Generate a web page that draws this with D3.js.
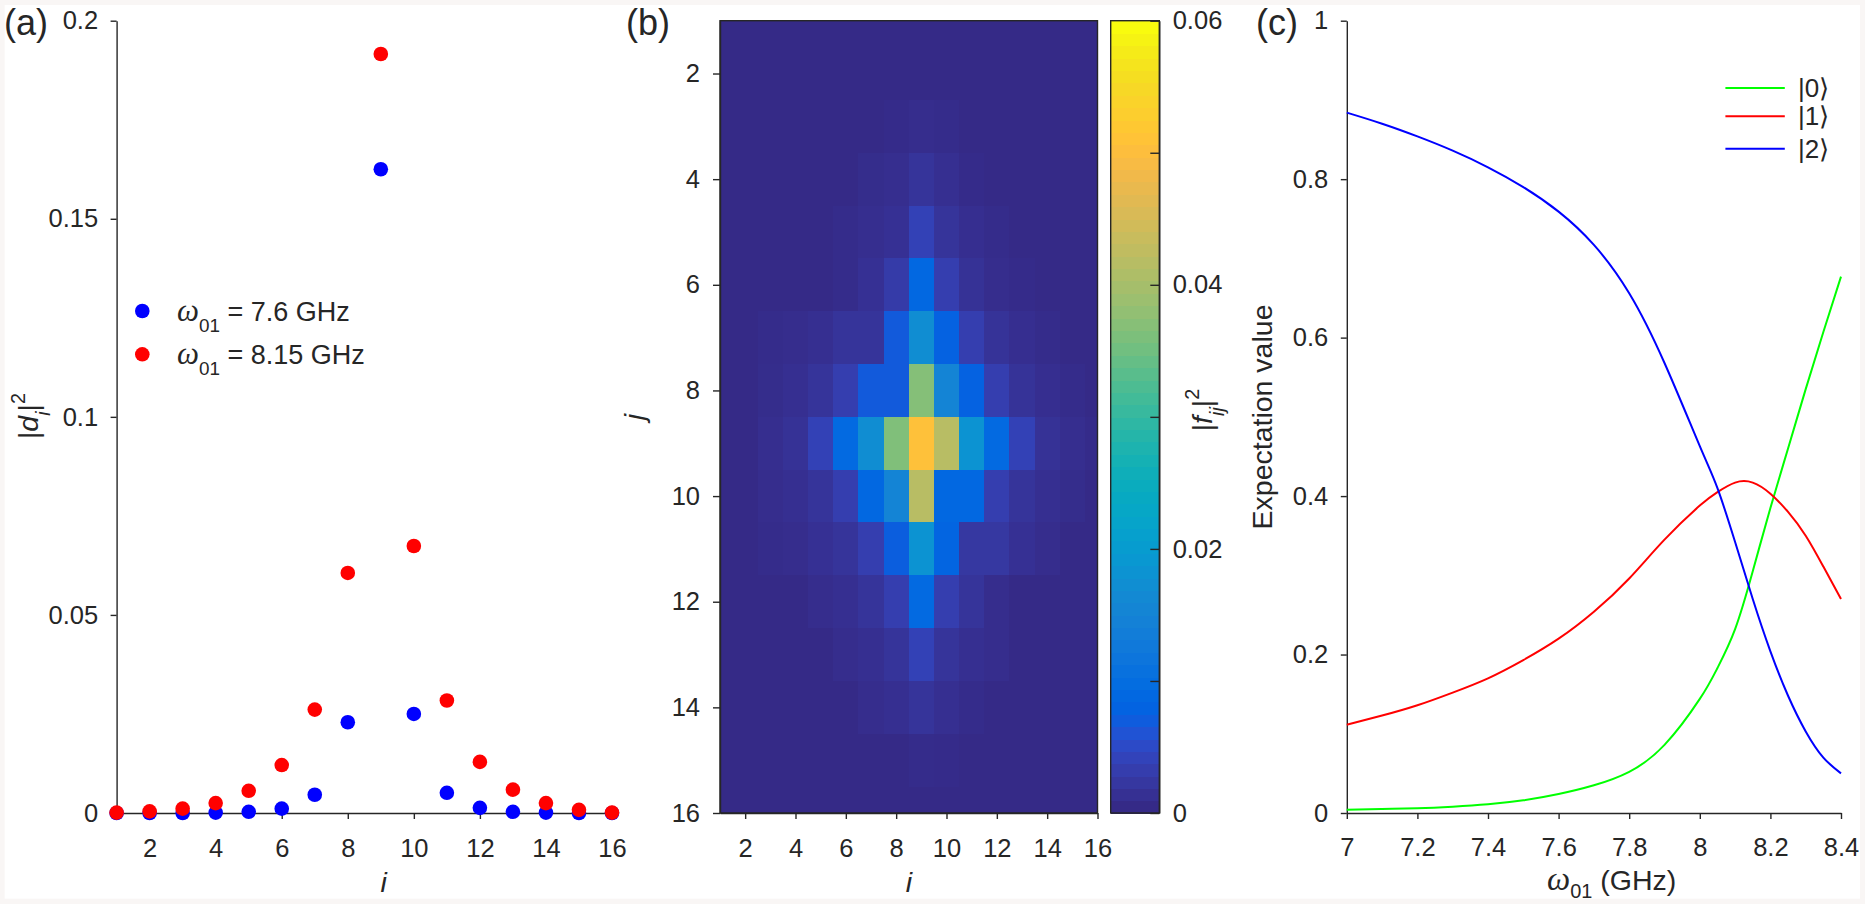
<!DOCTYPE html>
<html><head><meta charset="utf-8">
<script src="https://cdn.jsdelivr.net/npm/d3@7"></script>
<style>
html,body{margin:0;padding:0;background:#fff;}
svg{display:block;}
text{font-family:"Liberation Sans",Arial,Helvetica,sans-serif;fill:#262626;}
</style></head><body>
<svg id="fig" width="1865" height="904"></svg>
<script>
// ---------------- DATA ----------------
// Panel (a): |d_i|^2 for i = 1..16
const levelsI = [1,2,3,4,5,6,7,8,9,10,11,12,13,14,15,16];
const dBlue = [0.0000,0.0000,0.0000,0.0001,0.0003,0.0011,0.0046,0.0229,0.1625,0.0250,0.0051,0.0013,0.0003,0.0001,0.0000,0.0000]; // w01 = 7.6 GHz
const dRed  = [0.0001,0.0004,0.0011,0.0025,0.0056,0.0121,0.0261,0.0606,0.1916,0.0674,0.0284,0.0129,0.0059,0.0025,0.0008,0.0001]; // w01 = 8.15 GHz
const legendA = ["7.6 GHz","8.15 GHz"];
const ticksAx = [2,4,6,8,10,12,14,16];
const ticksAy = [0,0.05,0.1,0.15,0.2];
const labelsAy = ["0","0.05","0.1","0.15","0.2"];

// Panel (b): |f_ij|^2, rows j = 1..16, columns i = 1..16
const fRows = [
 [0,0,0,0,0,0,0,0,0,0,0,0,0,0,0,0],
 [0,0,0,0,0,0,0,0,0,0,0,0,0,0,0,0],
 [0,0,0,0,0,0,0,0.0002,0.0005,0.0003,0,0,0,0,0,0],
 [0,0,0,0,0,0,0.0004,0.0006,0.0015,0.0008,0.0002,0,0,0,0,0],
 [0,0,0,0,0,0.0003,0.0006,0.0010,0.0035,0.0015,0.0007,0.0003,0,0,0,0],
 [0,0,0,0,0,0.0003,0.0010,0.0025,0.0085,0.0030,0.0012,0.0005,0.0002,0,0,0],
 [0,0,0.0003,0.0005,0.0008,0.0015,0.0015,0.0065,0.0170,0.0075,0.0030,0.0013,0.0007,0.0003,0,0],
 [0,0,0.0004,0.0008,0.0015,0.0030,0.0065,0.0065,0.0370,0.0150,0.0075,0.0030,0.0013,0.0007,0.0003,0],
 [0,0,0.0006,0.0012,0.0035,0.0090,0.0170,0.0365,0.0510,0.0420,0.0180,0.0090,0.0035,0.0012,0.0006,0.0002],
 [0,0,0.0005,0.0008,0.0015,0.0030,0.0085,0.0150,0.0420,0.0085,0.0085,0.0030,0.0015,0.0008,0.0004,0],
 [0,0,0.0003,0.0005,0.0010,0.0015,0.0030,0.0070,0.0180,0.0080,0.0020,0.0020,0.0010,0.0005,0,0],
 [0,0,0,0,0.0005,0.0008,0.0015,0.0030,0.0090,0.0030,0.0015,0.0005,0,0,0,0],
 [0,0,0,0,0,0.0005,0.0008,0.0015,0.0035,0.0015,0.0008,0.0005,0,0,0,0],
 [0,0,0,0,0,0,0.0005,0.0008,0.0015,0.0008,0.0003,0,0,0,0,0],
 [0,0,0,0,0,0,0,0,0.0003,0.0002,0,0,0,0,0,0],
 [0,0,0,0,0,0,0,0,0,0,0,0,0,0,0,0]
];
const ticksB = [2,4,6,8,10,12,14,16];
const cbTicks = [0,0.01,0.02,0.03,0.04,0.05,0.06];
const cbLabels = ["0","","0.02","","0.04","","0.06"];

// Panel (c): expectation values vs w01 (GHz)
const omega = [7.0,7.1,7.2,7.3,7.4,7.5,7.6,7.7,7.8,7.9,8.0,8.05,8.1,8.15,8.2,8.25,8.3,8.35,8.4];
const p0 = [0.004,0.005,0.006,0.008,0.011,0.016,0.024,0.035,0.052,0.086,0.144,0.183,0.232,0.305,0.385,0.460,0.535,0.607,0.677];
const p1 = [0.1115,0.123,0.136,0.152,0.170,0.193,0.220,0.254,0.296,0.345,0.388,0.405,0.417,0.417,0.403,0.380,0.350,0.311,0.270];
const p2 = [0.884,0.870,0.854,0.836,0.815,0.790,0.759,0.717,0.656,0.568,0.463,0.410,0.342,0.270,0.204,0.148,0.103,0.070,0.050];
const stateNames = ["|0\u27E9","|1\u27E9","|2\u27E9"];
const ticksCx = [7,7.2,7.4,7.6,7.8,8,8.2,8.4];
const ticksCy = [0,0.2,0.4,0.6,0.8,1];

// parula colormap (style)
const parula = [[0.2081,0.1663,0.5292],[0.2116,0.1898,0.5777],[0.2123,0.2138,0.6270],[0.2081,0.2386,0.6771],[0.1959,0.2645,0.7279],[0.1707,0.2919,0.7792],[0.1253,0.3242,0.8303],[0.0591,0.3598,0.8683],[0.0117,0.3875,0.8820],[0.0060,0.4086,0.8828],[0.0165,0.4266,0.8786],[0.0329,0.4430,0.8720],[0.0498,0.4586,0.8641],[0.0629,0.4737,0.8554],[0.0723,0.4887,0.8467],[0.0779,0.5040,0.8384],[0.0793,0.5200,0.8312],[0.0749,0.5375,0.8263],[0.0641,0.5570,0.8240],[0.0488,0.5772,0.8228],[0.0343,0.5966,0.8199],[0.0265,0.6137,0.8135],[0.0239,0.6287,0.8038],[0.0231,0.6418,0.7913],[0.0228,0.6535,0.7768],[0.0267,0.6642,0.7607],[0.0384,0.6743,0.7436],[0.0590,0.6838,0.7254],[0.0843,0.6928,0.7062],[0.1133,0.7015,0.6859],[0.1453,0.7098,0.6646],[0.1801,0.7177,0.6424],[0.2178,0.7250,0.6193],[0.2586,0.7317,0.5954],[0.3022,0.7376,0.5712],[0.3482,0.7424,0.5473],[0.3953,0.7459,0.5244],[0.4420,0.7481,0.5033],[0.4871,0.7491,0.4840],[0.5300,0.7491,0.4661],[0.5709,0.7485,0.4494],[0.6099,0.7473,0.4337],[0.6473,0.7456,0.4188],[0.6834,0.7435,0.4044],[0.7184,0.7411,0.3905],[0.7525,0.7384,0.3768],[0.7858,0.7356,0.3633],[0.8185,0.7327,0.3498],[0.8507,0.7299,0.3360],[0.8824,0.7274,0.3217],[0.9139,0.7258,0.3063],[0.9450,0.7261,0.2886],[0.9739,0.7314,0.2666],[0.9938,0.7455,0.2403],[0.9990,0.7653,0.2164],[0.9955,0.7861,0.1967],[0.9880,0.8066,0.1794],[0.9789,0.8271,0.1633],[0.9697,0.8481,0.1475],[0.9626,0.8705,0.1309],[0.9589,0.8949,0.1132],[0.9598,0.9218,0.0948],[0.9661,0.9514,0.0755],[0.9763,0.9831,0.0538]]
  .map(c => d3.rgb(c[0]*255,c[1]*255,c[2]*255).formatHex());

// ---------------- DRAW ----------------
const INK = "#262626";
const FONT = '"Liberation Sans",Arial,Helvetica,sans-serif';
const SERIF = '"Liberation Serif","Times New Roman",serif';
const TICK_FS = 25.5, LABEL_FS = 28.5;

const svg = d3.select("#fig");
svg.append("rect").attr("width",1865).attr("height",904).attr("fill","#f9f6f5");
svg.append("rect").attr("x",4.7).attr("y",5).attr("width",1855.3).attr("height",893.7).attr("fill","#ffffff");

function styleAxis(g){
  g.attr("font-size",null).attr("font-family",null);
  g.selectAll("path.domain").attr("stroke",INK).attr("stroke-width",1.4);
  g.selectAll(".tick line").attr("stroke",INK).attr("stroke-width",1.4);
  g.selectAll(".tick text").attr("fill",INK).style("font-size",TICK_FS+"px").style("font-family",FONT);
}
// rich text: parts {t, it, sub, sup, serif, scale}
function rich(sel, parts, size, subShift){
  const sh = subShift === undefined ? 0.42 : subShift;
  let cur = 0;
  parts.forEach(p => {
    const target = p.sub ? size*sh : (p.sup ? -size*0.45 : 0);
    let fs = (p.sub||p.sup) ? size*0.7 : size;
    if (p.scale) fs *= p.scale;
    sel.append("tspan")
      .attr("dy", (target-cur).toFixed(2))
      .style("font-size", fs+"px")
      .style("font-style", p.it ? "italic" : "normal")
      .style("font-family", p.serif ? SERIF : FONT)
      .text(p.t);
    cur = target;
  });
}
function panelLabel(txt, x){
  svg.append("text").attr("x",x).attr("y",35).style("font-size","36px").text(txt);
}

// ===== Panel (a) =====
const xA = d3.scaleLinear().domain([1,16]).range([116.6,612]);
const yA = d3.scaleLinear().domain([0,0.2]).range([813,20.7]);
const gA = svg.append("g");
gA.append("g").attr("transform","translate(0,813)")
  .call(d3.axisBottom(xA).tickValues(ticksAx).tickSizeInner(6).tickSizeOuter(0).tickPadding(20).tickFormat(d3.format("d")))
  .call(styleAxis);
gA.append("g").attr("transform","translate(116.6,0)")
  .call(d3.axisLeft(yA).tickValues(ticksAy).tickSizeInner(6).tickSizeOuter(0).tickPadding(12.5).tickFormat((d,i)=>labelsAy[i]))
  .call(styleAxis);
gA.selectAll("circle.b").data(levelsI).join("circle").attr("class","b")
  .attr("cx",d=>xA(d)).attr("cy",(d,i)=>yA(dBlue[i])).attr("r",7.3).attr("fill","#0000ff");
gA.selectAll("circle.r").data(levelsI).join("circle").attr("class","r")
  .attr("cx",d=>xA(d)).attr("cy",(d,i)=>yA(dRed[i])).attr("r",7.3).attr("fill","#ff0000");
// legend
[["#0000ff",311],["#ff0000",354.3]].forEach((c,k)=>{
  gA.append("circle").attr("cx",142.3).attr("cy",c[1]).attr("r",7.3).attr("fill",c[0]);
  const t = gA.append("text").attr("x",177).attr("y",c[1]+9.7);
  rich(t,[{t:"\u03C9",it:true,serif:true,scale:1.15},{t:"01",sub:true},{t:" = "+legendA[k]}],27);
});
// axis labels
gA.append("text").attr("x",383.6).attr("y",892).attr("text-anchor","middle")
  .style("font-size",LABEL_FS+"px").style("font-style","italic").text("i");
{
  const t = gA.append("text").attr("transform","translate(38,416) rotate(-90)").attr("text-anchor","middle");
  rich(t,[{t:"|"},{t:"d",it:true},{t:"i",it:true,sub:true},{t:"|"},{t:"2",sup:true}],LABEL_FS);
}
panelLabel("(a)",4);

// ===== Panel (b) =====
const xB = d3.scaleLinear().domain([1,16]).range([720,1097.5]);
const yB = d3.scaleLinear().domain([1,16]).range([20.7,813]);
const colorF = d3.scaleLinear().domain(parula.map((c,k)=>0.06*k/(parula.length-1))).range(parula).clamp(true);
svg.append("clipPath").attr("id","clipB").append("rect")
  .attr("x",720).attr("y",20.7).attr("width",377.5).attr("height",792.3);
const gB = svg.append("g");
const cells = [];
fRows.forEach((row,j)=>row.forEach((v,i)=>cells.push({i:levelsI[i],j:levelsI[j],v})));
gB.append("g").attr("clip-path","url(#clipB)")
  .selectAll("rect").data(cells).join("rect")
  .attr("shape-rendering","crispEdges")
  .attr("x",d=>xB(d.i-0.5)).attr("y",d=>yB(d.j-0.5))
  .attr("width",d=>xB(d.i+0.5)-xB(d.i-0.5)+0.6).attr("height",d=>yB(d.j+0.5)-yB(d.j-0.5)+0.6)
  .attr("fill",d=>colorF(d.v));
gB.append("rect").attr("x",720).attr("y",20.7).attr("width",377.5).attr("height",792.3)
  .attr("fill","none").attr("stroke",INK).attr("stroke-width",1.4);
gB.append("g").attr("transform","translate(0,813)")
  .call(d3.axisBottom(xB).tickValues(ticksB).tickSizeInner(6).tickSizeOuter(0).tickPadding(20).tickFormat(d3.format("d")))
  .call(styleAxis);
gB.append("g").attr("transform","translate(720,0)")
  .call(d3.axisLeft(yB).tickValues(ticksB).tickSizeInner(7).tickSizeOuter(0).tickPadding(13).tickFormat(d3.format("d")))
  .call(styleAxis);
gB.append("text").attr("x",909).attr("y",892).attr("text-anchor","middle")
  .style("font-size",LABEL_FS+"px").style("font-style","italic").text("i");
gB.append("text").attr("transform","translate(644,417) rotate(-90)").attr("text-anchor","middle")
  .style("font-size",LABEL_FS+"px").style("font-style","italic").text("j");
panelLabel("(b)",626);

// colorbar
const cbY = d3.scaleLinear().domain([0,0.06]).range([813,20.7]);
const gCB = svg.append("g");
gCB.selectAll("rect").data(parula).join("rect")
  .attr("shape-rendering","crispEdges")
  .attr("x",1110.7).attr("width",48.6)
  .attr("y",(c,k)=>cbY(0.06*(k+1)/parula.length))
  .attr("height",(c,k)=>cbY(0.06*k/parula.length)-cbY(0.06*(k+1)/parula.length)+0.8)
  .attr("fill",c=>c);
gCB.append("rect").attr("x",1110.7).attr("y",20.7).attr("width",48.6).attr("height",792.3)
  .attr("fill","none").attr("stroke",INK).attr("stroke-width",1.4);
gCB.append("g").attr("transform","translate(1159.3,0)")
  .call(d3.axisRight(cbY).tickValues(cbTicks).tickSizeInner(-9).tickSizeOuter(0).tickPadding(13.4).tickFormat((d,i)=>cbLabels[i]))
  .call(styleAxis);
{
  const t = gCB.append("text").attr("transform","translate(1212,410) rotate(-90)").attr("text-anchor","middle");
  rich(t,[{t:"|"},{t:"f",it:true},{t:"ij",it:true,sub:true},{t:"|"},{t:"2",sup:true}],LABEL_FS);
}

// ===== Panel (c) =====
const xC = d3.scaleLinear().domain([7,8.4]).range([1346.8,1841]);
const yC = d3.scaleLinear().domain([0,1]).range([813,20.7]);
const gC = svg.append("g");
gC.append("g").attr("transform","translate(0,813)")
  .call(d3.axisBottom(xC).tickValues(ticksCx).tickSizeInner(6).tickSizeOuter(0).tickPadding(18.5).tickFormat(d=>String(+d.toFixed(1))))
  .call(styleAxis);
gC.append("g").attr("transform","translate(1346.8,0)")
  .call(d3.axisLeft(yC).tickValues(ticksCy).tickSizeInner(6).tickSizeOuter(0).tickPadding(12.5).tickFormat(d=>String(+d.toFixed(1))))
  .call(styleAxis);
const lineC = d3.line().x((d,i)=>xC(omega[i])).y(d=>yC(d)).curve(d3.curveNatural);
const seriesC = [[p0,"#00ff00"],[p1,"#ff0000"],[p2,"#0000ff"]];
seriesC.forEach(s=>{
  gC.append("path").attr("d",lineC(s[0])).attr("fill","none").attr("stroke",s[1]).attr("stroke-width",2);
});
// legend
[88,116.3,148.7].forEach((y,k)=>{
  gC.append("line").attr("x1",1725.4).attr("x2",1784.8).attr("y1",y).attr("y2",y)
    .attr("stroke",seriesC[k][1]).attr("stroke-width",2);
  gC.append("text").attr("x",1798).attr("y",y+9).style("font-size","26px").text(stateNames[k]);
});
{
  const t = gC.append("text").attr("x",1547).attr("y",890);
  rich(t,[{t:"\u03C9",it:true,serif:true,scale:1.15},{t:"01",sub:true},{t:" (GHz)"}],LABEL_FS,0.28);
}
gC.append("text").attr("transform","translate(1272,417) rotate(-90)").attr("text-anchor","middle")
  .style("font-size",LABEL_FS+"px").text("Expectation value");
panelLabel("(c)",1256);
</script>
</body></html>
